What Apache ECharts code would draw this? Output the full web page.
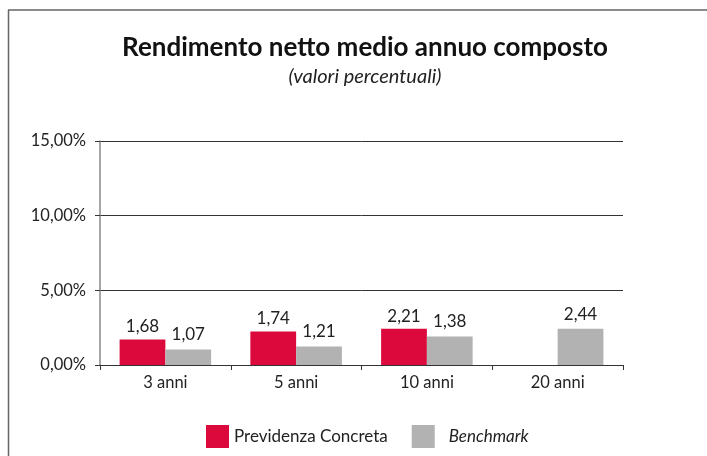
<!DOCTYPE html>
<html>
<head>
<meta charset="utf-8">
<script src="https://cdn.jsdelivr.net/npm/echarts@6/dist/echarts.min.js"></script>
<style>
  html, body { margin: 0; padding: 0; background: #fff; }
  #main { width: 707px; height: 456px; }
</style>
</head>
<body>
<div id="main"></div>
<script>
// categorie e valori
var categories = ['3 anni', '5 anni', '10 anni', '20 anni'];
// altezze delle barre (in %), come disegnate nel grafico originale
var previdenza = [1.71, 2.25, 2.43, null];
var benchmark = [1.04, 1.24, 1.91, 2.43];
// etichette riportate sopra le barre
var previdenzaLabels = ['1,68', '1,74', '2,21', ''];
var benchmarkLabels = ['1,07', '1,21', '1,38', '2,44'];
var yTicks = [0, 5, 10, 15];

var font = 'Lato, "Open Sans", sans-serif';
var chart = echarts.init(document.getElementById('main'), null, { renderer: 'canvas' });

var option = {
  backgroundColor: '#fff',
  animation: false,
  graphic: [
    { type: 'line', shape: { x1: 8.5, y1: 10, x2: 8.5, y2: 456 }, style: { stroke: '#666', lineWidth: 1.5 } },
    { type: 'line', shape: { x1: 8, y1: 10, x2: 707, y2: 10 }, style: { stroke: '#666', lineWidth: 1.5 } }
  ],
  title: {
    text: 'Rendimento netto medio annuo composto',
    subtext: '(valori percentuali)',
    left: 360,
    textAlign: 'center',
    top: 30,
    itemGap: 6,
    textStyle: { fontFamily: font, fontSize: 26, fontWeight: 'bold', color: '#111' },
    subtextStyle: { fontFamily: font, fontSize: 20, fontStyle: 'italic', color: '#222' }
  },
  legend: {
    left: 201,
    top: 420,
    itemWidth: 23,
    itemHeight: 23,
    itemGap: 24,
    icon: 'rect',
    textStyle: { fontFamily: font, fontSize: 17, color: '#222' },
    data: [
      { name: 'Previdenza Concreta' },
      { name: 'Benchmark', textStyle: { fontStyle: 'italic', padding: [0, 0, 0, 9] } }
    ]
  },
  grid: { left: 100, right: 84, top: 141, bottom: 91 },
  xAxis: {
    type: 'category',
    data: categories,
    axisLine: { lineStyle: { color: '#333', width: 1 } },
    axisTick: { show: true, length: 5, lineStyle: { color: '#333' } },
    axisLabel: { fontFamily: font, fontSize: 16.5, color: '#222', margin: 9 }
  },
  yAxis: {
    type: 'value',
    min: 0,
    max: 15,
    interval: 5,
    axisLine: { show: true, lineStyle: { color: '#888', width: 1.5 } },
    axisTick: { show: true, length: 5, lineStyle: { color: '#333' } },
    axisLabel: {
      fontFamily: font, fontSize: 16.5, color: '#222', margin: 14,
      formatter: function (v) {
        if (yTicks.indexOf(v) < 0) return '';
        return v.toFixed(2).replace('.', ',') + '%';
      }
    },
    splitLine: { show: true, lineStyle: { color: '#333', width: 1 } }
  },
  series: [
    {
      name: 'Previdenza Concreta',
      type: 'bar',
      data: previdenza,
      barGap: '0%',
      barCategoryGap: '30%',
      itemStyle: { color: '#dc0a3c' },
      label: {
        show: true, position: 'top', distance: 4,
        fontFamily: font, fontSize: 17, color: '#222',
        formatter: function (p) { return previdenzaLabels[p.dataIndex]; }
      }
    },
    {
      name: 'Benchmark',
      type: 'bar',
      data: benchmark,
      itemStyle: { color: '#b2b2b2' },
      label: {
        show: true, position: 'top', distance: 6,
        fontFamily: font, fontSize: 17, color: '#222',
        formatter: function (p) { return benchmarkLabels[p.dataIndex]; }
      }
    }
  ]
};
chart.setOption(option);
</script>
</body>
</html>
